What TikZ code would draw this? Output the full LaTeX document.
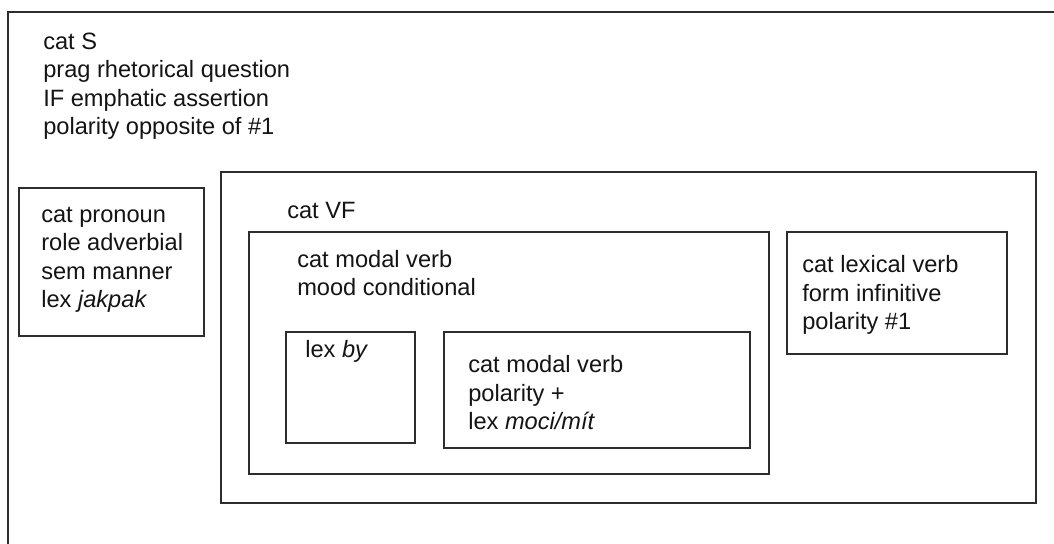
\documentclass[tikz,border=0pt]{standalone}
\usepackage{fontspec}
\setmainfont{Liberation Sans}
\usepackage{tikz}
\usetikzlibrary{positioning}
\definecolor{frameline}{RGB}{45, 45, 45}
\definecolor{featuretext}{RGB}{20, 20, 20}

\begin{document}
\begin{tikzpicture}[x=0.025cm, y=-0.025cm,
        frame/.style={draw=frameline, line width=0.9pt},
        feat/.style={anchor=base west, inner sep=0pt, align=left, text=featuretext,
                     font=\fontsize{16.8}{20.3}\selectfont}
    ]
        \useasboundingbox (0,0) rectangle (1054,544);
        \clip (0,0) rectangle (1054,544);
        \fill[white] (0,0) rectangle (1054,544);

        \draw[frame] (8,12) rectangle (1080,570);
        \draw[frame] (19,188) rectangle (204,336);
        \draw[frame] (221,172) rectangle (1036,503);
        \draw[frame] (249,232) rectangle (769,474);
        \draw[frame] (286,332) rectangle (415,443);
        \draw[frame] (444,332) rectangle (750,448);
        \draw[frame] (787,232) rectangle (1007,354);

        \node[feat] (sFeat) at (43,135) {cat S\\ prag rhetorical question\\ IF emphatic assertion\\ polarity opposite of \#1};
        \node[feat] (pronFeat) at (41,308) {cat pronoun\\ role adverbial\\ sem manner\\ lex \textit{jakpak}};
        \node[feat] (vfFeat) at (287,219) {cat VF};
        \node[feat] (modalFeat) at (297,296) {cat modal verb\\ mood conditional};
        \node[feat] (byFeat) at (305,358) {lex \textit{by}};
        \node[feat] (mociFeat) at (468,430) {cat modal verb\\ polarity +\\ lex \textit{moci/mít}};
        \node[feat] (lexFeat) at (802,330) {cat lexical verb\\ form infinitive\\ polarity \#1};
    \end{tikzpicture}
\end{document}
